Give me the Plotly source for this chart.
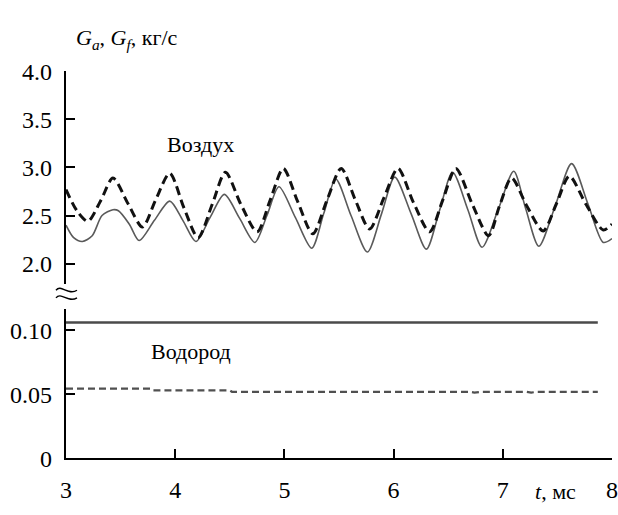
import plotly.graph_objects as go

# Air mass flow (upper panel), kg/s
air_dash_t = [3.00, 3.10, 3.20, 3.32, 3.43, 3.57, 3.70, 3.82, 3.95, 4.08, 4.21, 4.34,
              4.46, 4.60, 4.75, 4.87, 4.99, 5.12, 5.26, 5.39, 5.52, 5.65, 5.78, 5.91,
              6.04, 6.18, 6.33, 6.45, 6.57, 6.72, 6.87, 6.97, 7.08, 7.22, 7.37, 7.49,
              7.61, 7.76, 7.92, 8.00]
air_dash_g = [2.77, 2.55, 2.44, 2.66, 2.89, 2.62, 2.38, 2.66, 2.94, 2.58, 2.27, 2.62,
              2.95, 2.62, 2.33, 2.66, 2.99, 2.65, 2.31, 2.66, 2.99, 2.66, 2.36, 2.68,
              2.99, 2.64, 2.33, 2.66, 2.99, 2.62, 2.29, 2.60, 2.89, 2.60, 2.34, 2.62,
              2.91, 2.62, 2.35, 2.41]

air_solid_t = [3.00, 3.07, 3.15, 3.24, 3.33, 3.43, 3.48, 3.58, 3.67, 3.81, 3.95, 4.07,
               4.19, 4.32, 4.45, 4.59, 4.73, 4.84, 4.95, 5.10, 5.25, 5.36, 5.47, 5.61,
               5.76, 5.89, 6.01, 6.16, 6.30, 6.42, 6.54, 6.68, 6.81, 6.96, 7.10, 7.21,
               7.33, 7.48, 7.63, 7.78, 7.92, 8.00]
air_solid_g = [2.40, 2.27, 2.23, 2.29, 2.50, 2.56, 2.55, 2.41, 2.24, 2.45, 2.65, 2.45,
               2.23, 2.48, 2.72, 2.47, 2.22, 2.50, 2.80, 2.48, 2.16, 2.52, 2.88, 2.50,
               2.12, 2.52, 2.90, 2.52, 2.15, 2.55, 2.95, 2.56, 2.17, 2.57, 2.96, 2.57,
               2.18, 2.60, 3.04, 2.62, 2.22, 2.26]

# Hydrogen mass flow (lower panel), kg/s
h2_solid_t = [3.00, 7.87]
h2_solid_g = [0.106, 0.106]
h2_dash_t = [3.00, 3.78, 3.80, 4.50, 4.52, 6.70, 6.74, 6.80, 7.22, 7.26, 7.32, 7.87]
h2_dash_g = [0.0543, 0.0543, 0.0530, 0.0530, 0.0519, 0.0519, 0.0512, 0.0519,
             0.0519, 0.0513, 0.0519, 0.0519]

x_ticks = [3, 4, 5, 6, 7, 8]
top_ticks = [2.0, 2.5, 3.0, 3.5, 4.0]
top_tick_text = ["2.0", "2.5", "3.0", "3.5", "4.0"]
bot_ticks = [0, 0.05, 0.10]
bot_tick_text = ["0", "0.05", "0.10"]

W, H = 618, 515
L, R = 66, 6
SERIF = "Times New Roman, Liberation Serif, serif"


def py(p):
    return 1 - p / H


def px(p):
    return (p - L) / (W - L - R)


fig = go.Figure()
fig.add_trace(go.Scatter(x=air_solid_t, y=air_solid_g, mode="lines",
                         line=dict(color="#5a5a5a", width=1.6, shape="spline", smoothing=0.8),
                         xaxis="x2", yaxis="y2", showlegend=False))
fig.add_trace(go.Scatter(x=air_dash_t, y=air_dash_g, mode="lines",
                         line=dict(color="#111111", width=3, dash="9px,5px",
                                   shape="spline", smoothing=0.8),
                         xaxis="x2", yaxis="y2", showlegend=False))
fig.add_trace(go.Scatter(x=h2_solid_t, y=h2_solid_g, mode="lines",
                         line=dict(color="#4a4a4a", width=2.6),
                         xaxis="x", yaxis="y", showlegend=False))
fig.add_trace(go.Scatter(x=h2_dash_t, y=h2_dash_g, mode="lines",
                         line=dict(color="#505050", width=2.2, dash="7px,4px"),
                         xaxis="x", yaxis="y", showlegend=False))

axis_font = dict(family=SERIF, size=24, color="black")
common_y = dict(showline=True, linecolor="black", linewidth=2.2, ticks="inside",
                ticklen=9, tickwidth=2.2, tickcolor="black", showgrid=False,
                zeroline=False, tickfont=axis_font, ticklabelstandoff=7)

fig.update_layout(
    width=W, height=H,
    margin=dict(l=L, r=R, t=0, b=0),
    paper_bgcolor="white", plot_bgcolor="white",
    font=dict(family=SERIF, size=22, color="black"),
    xaxis=dict(domain=[0, 1], range=[3, 8], anchor="y", tickvals=x_ticks,
               showline=True, linecolor="black", linewidth=2.2, ticks="inside",
               ticklen=9, tickwidth=2.2, tickcolor="black", showgrid=False,
               zeroline=False, tickfont=axis_font, ticklabelstandoff=9,
               ticklabeloverflow="allow"),
    xaxis2=dict(domain=[0, 1], range=[3, 8], anchor="y2", matches="x",
                visible=False, showgrid=False, zeroline=False),
    yaxis=dict(domain=[py(469), py(312)], range=[0, (469 - 312) / 1350],
               tickvals=bot_ticks, ticktext=bot_tick_text, anchor="x", **common_y),
    yaxis2=dict(domain=[py(285), py(61.5)], range=[4.0 - (285 - 61.5) / 101.2, 4.0],
                tickvals=top_ticks, ticktext=top_tick_text, anchor="x2", **common_y),
)

annotations = [
    dict(text="<i>G</i><sub><i>a</i></sub>, <i>G</i><sub><i>f</i></sub>, кг/с",
         x=px(74), y=py(27), xanchor="left", yanchor="middle"),
    dict(text="Воздух", x=px(200), y=py(138), xanchor="center", yanchor="middle"),
    dict(text="Водород", x=px(191), y=py(356), xanchor="center", yanchor="middle"),
    dict(text="<i>t</i>, мс", x=px(555), y=py(504), xanchor="center", yanchor="middle"),
]
fig.update_layout(annotations=[
    dict(a, xref="paper", yref="paper", showarrow=False,
         font=dict(family=SERIF, size=22, color="black")) for a in annotations
])


# axis break mark between the panels
def wave(y0):
    pts = [(56, y0 + 2), (61, y0 - 5), (68, y0 + 8), (77, y0 + 2)]
    (x0, a0), (x1, a1), (x2, a2), (x3, a3) = pts
    return (f"M {px(x0)},{py(a0)} C {px(x1)},{py(a1)} {px(x2)},{py(a2)} "
            f"{px(x3)},{py(a3)}")


for y0 in (290, 298):
    fig.add_shape(type="path", path=wave(y0), xref="paper", yref="paper",
                  line=dict(color="black", width=1.4))

fig.write_html("out.html")
